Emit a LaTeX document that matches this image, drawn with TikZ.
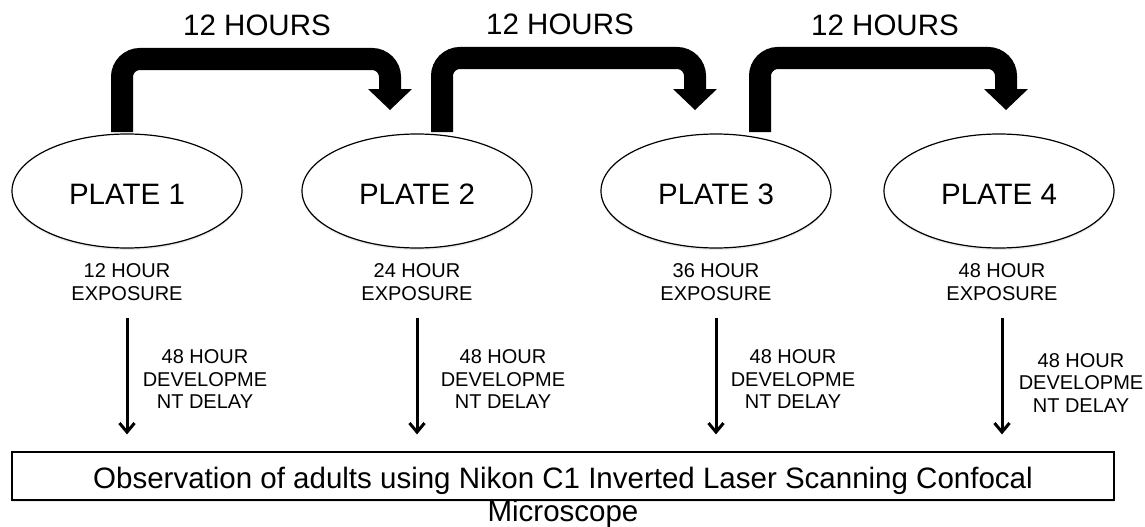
\documentclass[tikz,border=0pt]{standalone}
\usepackage{fontspec}
\setmainfont{Liberation Sans}
\usetikzlibrary{calc,shapes.geometric,arrows.meta,shadows}

\begin{document}
\begin{tikzpicture}[x=1pt,y=-1pt,
  plate/.style={ellipse,draw=black,line width=1.2pt,fill=white,
    minimum width=230pt,minimum height=114pt,inner sep=0pt,
    text height=27pt,text depth=0pt,
    font=\fontsize{29.5}{33}\selectfont,
    drop shadow={shadow xshift=0pt,shadow yshift=-2pt,opacity=0.18}},
  biglabel/.style={font=\fontsize{29.5}{32.5}\selectfont,inner sep=0pt},
  smalllabel/.style={align=center,inner sep=0pt,
    font=\fontsize{20}{22.5}\selectfont},
  bigarrow/.style={line width=22pt,rounded corners=18pt},
  headfill/.style={fill=black},
  devarrow/.style={line width=3pt,-{Straight Barb[length=9pt,width=15pt]},
    shorten >=17pt},
  obsbox/.style={draw=black,line width=1.2pt,fill=white,inner sep=0pt,
    minimum width=1102pt,minimum height=48pt,
    drop shadow={shadow xshift=0pt,shadow yshift=-1.5pt,opacity=0.18}}
]
\useasboundingbox (0,0) rectangle (1145,527);

% plates
\node[plate] (p1) at (127,191) {PLATE 1};
\node[plate] (p2) at (417,191) {PLATE 2};
\node[plate] (p3) at (716,191) {PLATE 3};
\node[plate] (p4) at (999,191) {PLATE 4};

% 12 hour transfers between plates
\coordinate (s1) at (122,132); \coordinate (k1) at (390,59);  \coordinate (t1) at (390,89);
\coordinate (s2) at (442,132); \coordinate (k2) at (695,58);  \coordinate (t2) at (695,89);
\coordinate (s3) at (760,132); \coordinate (k3) at (1006,58); \coordinate (t3) at (1006,89);

\foreach \i in {1,2,3}{
  \draw[bigarrow] (s\i) |- (k\i) -- (t\i);
  \fill[headfill] ($(t\i)+(-22,0)$) -- ($(t\i)+(22,0)$) -- ($(t\i)+(0,21)$) -- cycle;
}

\node[biglabel] (h1) at (257,25) {12 HOURS};
\node[biglabel] (h2) at (560,24) {12 HOURS};
\node[biglabel] (h3) at (885,25) {12 HOURS};

% exposure labels
\node[smalllabel] (e1) at (127,282) {12 HOUR\\EXPOSURE};
\node[smalllabel] (e2) at (417,282) {24 HOUR\\EXPOSURE};
\node[smalllabel] (e3) at (716,282) {36 HOUR\\EXPOSURE};
\node[smalllabel] (e4) at (1002,282) {48 HOUR\\EXPOSURE};

% observation box
\node[obsbox] (obs) at (563,476) {};
\node[biglabel,align=center,anchor=north] (obstext) at (563,467)
  {Observation of adults using Nikon C1 Inverted Laser Scanning Confocal\\Microscope};

% development delay arrows
\coordinate (d1) at (127,318);
\coordinate (d2) at (417,318);
\coordinate (d3) at (716,318);
\coordinate (d4) at (1002,318);
\foreach \i in {1,2,3,4}{
  \draw[devarrow] (d\i) -- (d\i |- obs.north);
}

\node[smalllabel] (l1) at (205,379.5) {48 HOUR\\DEVELOPME\\NT DELAY};
\node[smalllabel] (l2) at (503,379.5) {48 HOUR\\DEVELOPME\\NT DELAY};
\node[smalllabel] (l3) at (793,379.5) {48 HOUR\\DEVELOPME\\NT DELAY};
\node[smalllabel] (l4) at (1081,383) {48 HOUR\\DEVELOPME\\NT DELAY};

\end{tikzpicture}
\end{document}
